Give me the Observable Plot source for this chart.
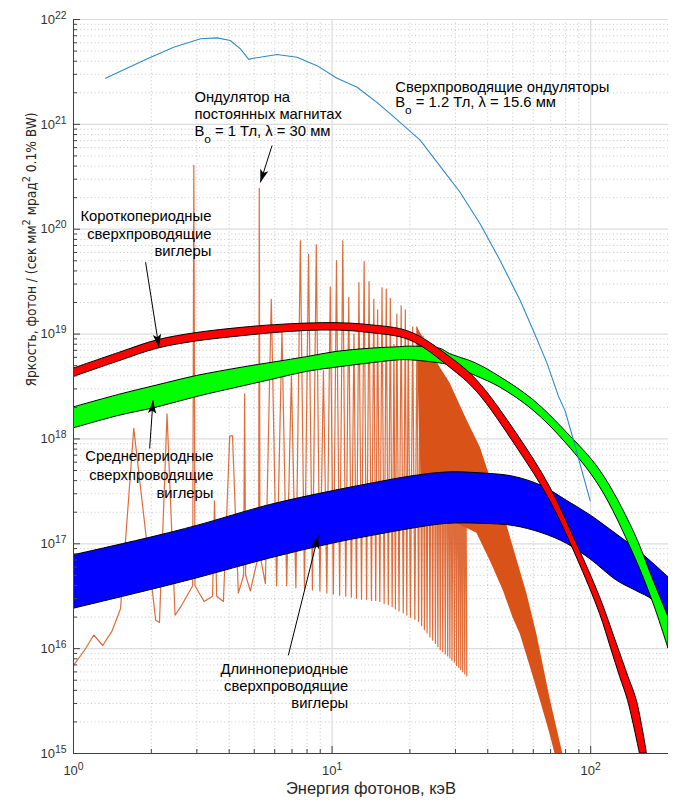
<!DOCTYPE html>
<html><head><meta charset="utf-8">
<script src="https://cdn.jsdelivr.net/npm/d3@7"></script>
<script src="https://cdn.jsdelivr.net/npm/@observablehq/plot@0.6"></script>
<style>
body{margin:0;background:#fff;}
#chart svg{font-family:"Liberation Sans",Arial,Helvetica,sans-serif;}
</style>
</head><body><div id="chart"></div>
<script>
// ---------- data (energies in keV, brightness as log10 of value) ----------
const xTickValues = [1, 10, 100];
const yTickExponents = [15, 16, 17, 18, 19, 20, 21, 22];

// permanent-magnet undulator, low-energy part (polyline)
const pmE = [1.00,1.10,1.198,1.297,1.41,1.52,1.71,2.08,2.15,2.30,2.47,2.60,2.89,2.92,2.95,3.2,3.45,3.51,3.58,3.8,4.02,4.12,4.34,4.55,4.59,4.63,4.83,5.20,5.23,5.26,5.52];
const pmB = [15.84,15.98,16.13,16.03,16.17,16.38,18.10,16.27,16.25,18.24,16.32,16.40,16.60,20.61,16.60,16.45,16.50,17.41,16.50,16.45,18.03,18.03,16.53,16.70,18.43,16.70,16.55,16.90,20.39,16.90,16.62];
// permanent-magnet undulator, harmonic peaks (keV, peak) and the minimum after each peak
const spikeE   = [5.82,6.40,6.96,7.54,8.11,8.69,9.26,9.84,10.4,11.0,11.6,12.15,12.7,13.3,13.9,14.5,15.0,15.6,16.2,16.8,17.35,17.8,18.5,19.2,19.7,20.5,21.3,
                  21.9,22.5,23.0,23.6,24.2,24.8,25.4,25.9,26.5,27.1,27.7,28.3,28.8,29.4,30.0,30.6,31.2,31.7,32.3,32.9];
const spikeTop = [19.33,19.03,18.60,19.89,19.76,19.85,18.65,19.45,19.70,19.89,19.35,19.00,19.49,19.69,19.50,19.33,19.23,19.44,19.43,19.34,18.90,19.19,19.27,19.23,19.00,19.07,19.07,
                  18.95,18.98,18.85,18.88,18.75,18.78,18.70,18.64,18.62,18.55,18.58,18.50,18.45,18.42,18.38,18.32,18.30,18.25,18.22,18.18];
const spikeMin = [16.60,16.60,16.58,16.57,16.56,16.55,16.53,16.52,16.51,16.50,16.49,16.48,16.47,16.47,16.46,16.46,16.45,16.43,16.42,16.40,16.38,16.36,16.34,16.32,16.30,16.28,16.26,
                  16.22,16.18,16.15,16.11,16.08,16.05,16.02,15.99,15.97,15.95,15.93,15.91,15.89,15.87,15.84,15.82,15.80,15.78,15.76,15.74];
// dense (solid) part: upper envelope and lower-left edge
const denseTopE = [21.3,23.3,26.2,28.6,33.2,37.4,40.8,46.0,51.0,56.6,61.9,70.0,78.0];
const denseTopB = [19.07,18.90,18.68,18.53,18.18,17.92,17.64,17.29,16.91,16.53,16.14,15.50,15.00];
const denseBotE = [21.3,21.8,22.5,30.0,36.3,41.0,46.0,50.0,53.4,58.0,63.8,69.0,72.8];
const denseBotB = [19.07,18.00,17.30,17.20,17.10,16.83,16.55,16.30,16.14,15.85,15.51,15.22,15.00];

// superconducting undulators (thin line)
const scuE = [1.33,1.93,2.44,3.10,3.59,4.04,4.42,4.76,4.97,6.12,7.32,8.74,10.45,12.5,14.9,16.8,21.9,26.2,31.3,37.4,44.7,53.4,60.1,67.6,75.0,79.6,85.8,92.4,99.6];
const scuB = [21.44,21.625,21.736,21.816,21.825,21.80,21.72,21.62,21.63,21.666,21.64,21.56,21.44,21.354,21.21,21.10,20.85,20.60,20.35,20.05,19.70,19.32,19.03,18.73,18.41,18.27,17.99,17.70,17.41];

// short-period SC wigglers (red band)
const redTopE = [1,1.5,2.11,3,4.5,6,8,10.4,14,20,28.6,36.3,51.8,69.7,88.4,108.7,126,140,151,165];
const redTopB = [18.67,18.82,18.94,19.01,19.06,19.085,19.10,19.104,19.085,19.02,18.78,18.56,18.05,17.54,17.00,16.49,16.05,15.73,15.50,15.00];
const redBotE = [1,1.5,2.11,3,4.5,6,8,10.4,14,20,28.6,36.3,51.8,69.7,88.4,108.7,120,130,139.6,155];
const redBotB = [18.59,18.74,18.86,18.93,18.98,19.01,19.03,19.034,19.01,18.94,18.68,18.45,17.92,17.41,16.87,16.33,16.00,15.73,15.50,15.00];
// mid-period SC wigglers (green band)
const greenE    = [1,1.5,2.11,3,4.5,6,8,10.4,14,18.3,20,26.2,28.6,36,44.7,60.1,80.9,108.7,146,175,200];
const greenTopB = [18.30,18.42,18.51,18.60,18.68,18.73,18.78,18.83,18.86,18.875,18.88,18.86,18.81,18.72,18.59,18.37,18.06,17.70,17.13,16.65,16.30];
const greenBotB = [18.10,18.22,18.30,18.40,18.50,18.57,18.64,18.68,18.72,18.75,18.75,18.72,18.70,18.60,18.49,18.27,17.95,17.54,16.91,16.43,16.00];
// long-period SC wigglers (blue band)
const blueE    = [1,2,3,5.77,10,15.4,20,27.8,38.5,50.3,65,80.9,100,126,150,175,200];
const blueTopB = [16.89,17.06,17.17,17.37,17.50,17.59,17.64,17.68,17.67,17.64,17.55,17.41,17.27,17.09,16.95,16.81,16.68];
const blueBotB = [16.38,16.56,16.67,16.86,17.00,17.09,17.14,17.19,17.19,17.17,17.10,17.00,16.85,16.65,16.55,16.46,16.30];

// annotation texts: keV, log10 brightness, anchor
const noteText = [
  "Ондулятор на", "постоянных магнитах", "B_{o} = 1 Тл, λ = 30 мм",
  "Сверхпроводящие ондуляторы", "B_{o} = 1.2 Тл, λ = 15.6 мм",
  "Короткопериодные", "сверхпроводящие", "виглеры",
  "Среднепериодные", "сверхпроводящие", "виглеры",
  "Длиннопериодные", "сверхпроводящие", "виглеры"
];
const noteX = [2.935,2.935,2.935, 17.55,17.55, 3.414,3.414,3.414, 3.475,3.475,3.475, 11.55,11.55,11.55];
const noteY = [21.256,21.094,20.937, 21.352,21.208, 20.126,19.954,19.792, 17.833,17.651,17.480, 15.806,15.644,15.482];
const noteAnchor = ["start","start","start","start","start","end","end","end","end","end","end","end","end","end"];
// arrows: tail (x1,y1) -> tip (x2,y2)
const arrowX1 = [5.86, 1.90, 1.97, 6.77];
const arrowY1 = [20.798, 19.685, 17.909, 15.935];
const arrowX2 = [5.28, 2.14, 2.03, 8.84];
const arrowY2 = [20.446, 18.875, 18.367, 17.079];

const xLabel = "Энергия фотонов, кэВ";
const yLabel = "Яркость, фотон / (сек мм^{2} мрад^{2} 0.1% BW)";

// ---------- build ----------
const P = v => Math.pow(10, v);
const W = 686, H = 807, mL = 73, mR = 18, mT = 19, mB = 54;
const xDomain = [1, 200], yDomain = [1e15, 1e22];

const rows = (E, B) => E.map((e, i) => ({x: e, y: P(B[i])}));
const band = (Ea, Ba, Eb, Bb) => Ea.map((e, i) => ({xa: e, ya: P(Ba[i]), xb: Eb[i], yb: P(Bb[i])}));

// permanent magnet undulator as one polyline: low part, then peak / minimum pairs
const pmRows = rows(pmE, pmB);
spikeE.forEach((e, i) => {
  pmRows.push({x: e, y: P(spikeTop[i])});
  const next = i + 1 < spikeE.length ? spikeE[i + 1] : e + 0.58;
  pmRows.push({x: Math.sqrt(e * next), y: P(spikeMin[i])});
});
const denseRows = band(denseTopE, denseTopB, denseBotE, denseBotB);
const scuRows = rows(scuE, scuB);
const redRows = band(redTopE, redTopB, redBotE, redBotB);
const greenRows = band(greenE, greenTopB, greenE, greenBotB);
const blueRows = band(blueE, blueTopB, blueE, blueBotB);
const noteRows = noteText.map((t, i) => ({t, x: noteX[i], y: P(noteY[i]), a: noteAnchor[i]}));

const xs = Plot.scale({x: {type: "log", domain: xDomain, range: [mL, W - mR]}});
const ys = Plot.scale({y: {type: "log", domain: yDomain, range: [H - mB, mT]}});
const arrowRows = arrowX1.map((x1, i) => {
  const y1 = P(arrowY1[i]), x2 = arrowX2[i], y2 = P(arrowY2[i]);
  const dx = xs.apply(x2) - xs.apply(x1), dy = ys.apply(y2) - ys.apply(y1);
  return {x1, y1, x2, y2, ang: Math.atan2(dx, -dy) * 180 / Math.PI};
});
const headSymbol = {draw(ctx) { ctx.moveTo(0, 0); ctx.lineTo(-4.2, 13); ctx.lineTo(0, 10); ctx.lineTo(4.2, 13); ctx.closePath(); }};

const xMinor = [], yMinor = [];
for (let k = 0; k <= 2; k++) for (let m = 2; m <= 9; m++) { const v = m * 10 ** k; if (v < 200) xMinor.push(v); }
for (let k = 15; k < 22; k++) for (let m = 2; m <= 9; m++) yMinor.push(m * 10 ** k);
const yMajor = yTickExponents.map(P);

const orange = "#D95319";
const supFmt = d => `10^{${Math.round(Math.log10(d))}}`;
const bandOpts = {x1: "xa", y1: "ya", x2: "xb", y2: "yb", stroke: "black", strokeWidth: 1, curve: "catmull-rom", clip: true};

const chart = Plot.plot({
  width: W, height: H,
  marginLeft: mL, marginRight: mR, marginTop: mT, marginBottom: mB,
  style: {background: "white", color: "#262626", fontSize: "13px"},
  x: {type: "log", domain: xDomain},
  y: {type: "log", domain: yDomain},
  marks: [
    Plot.gridX(xMinor, {stroke: "#9a9a9a", strokeOpacity: 0.55, strokeDasharray: "1,2.6"}),
    Plot.gridY(yMinor, {stroke: "#9a9a9a", strokeOpacity: 0.55, strokeDasharray: "1,2.6"}),
    Plot.gridX(xTickValues, {stroke: "#dcdcdc", strokeOpacity: 1, strokeWidth: 1.2}),
    Plot.gridY(yMajor, {stroke: "#dcdcdc", strokeOpacity: 1, strokeWidth: 1.2}),
    // permanent magnet undulator
    Plot.line(pmRows, {x: "x", y: "y", stroke: orange, strokeWidth: 1.2, strokeOpacity: 0.85, clip: true}),
    Plot.area(denseRows, {x1: "xa", y1: "ya", x2: "xb", y2: "yb", fill: orange, clip: true}),
    // wiggler bands
    Plot.area(blueRows, {...bandOpts, fill: "#0000ff"}),
    Plot.area(greenRows, {...bandOpts, fill: "#00ff00"}),
    Plot.area(redRows, {...bandOpts, fill: "#ff0000"}),
    // superconducting undulators
    Plot.line(scuRows, {x: "x", y: "y", stroke: "#3189c8", strokeWidth: 1.1, clip: true}),
    // axes
    Plot.ruleX([1], {stroke: "#404040"}),
    Plot.ruleY([1e15], {stroke: "#404040"}),
    Plot.axisX(xTickValues, {tickSize: -7, tickFormat: () => "", stroke: "#404040"}),
    Plot.axisX(xMinor, {tickSize: -4, tickFormat: () => "", stroke: "#404040"}),
    Plot.axisY(yMajor, {tickSize: -7, tickFormat: () => "", stroke: "#404040"}),
    Plot.axisY(yMinor, {tickSize: -4, tickFormat: () => "", stroke: "#404040"}),
    Plot.axisX(xTickValues, {tickSize: 0, tickPadding: 12, tickFormat: supFmt, fontSize: 13, fill: "#333"}),
    Plot.axisY(yMajor, {tickSize: 0, tickPadding: 7, tickFormat: supFmt, fontSize: 13, fill: "#333"}),
    Plot.text([xLabel], {frameAnchor: "bottom", dy: 40, fontSize: 16.5, fill: "#262626"}),
    Plot.text([yLabel], {frameAnchor: "left", dx: -42, rotate: -90, fontSize: 13.6, fill: "#262626",
      fontFamily: "'Liberation Sans Narrow', 'DejaVu Sans Condensed', 'Liberation Sans', sans-serif"}),
    // annotations
    Plot.link(arrowRows, {x1: "x1", y1: "y1", x2: "x2", y2: "y2", stroke: "black", strokeWidth: 1}),
    Plot.dot(arrowRows, {x: "x2", y: "y2", symbol: headSymbol, rotate: "ang", fill: "black", stroke: "none", r: 5}),
    Plot.text(noteRows.filter(d => d.a === "start"), {x: "x", y: "y", text: "t", textAnchor: "start", fontSize: 14.8, fill: "black"}),
    Plot.text(noteRows.filter(d => d.a === "end"), {x: "x", y: "y", text: "t", textAnchor: "end", fontSize: 14.8, fill: "black"})
  ]
});

// rich text: ^{..} superscript, _{..} subscript
const NS = "http://www.w3.org/2000/svg";
chart.querySelectorAll("text").forEach(el => {
  const s = el.textContent;
  if (!/[\^_]\{/.test(s) || el.querySelector("tspan")) return;
  const parts = s.split(/([\^_]\{[^}]*\})/);
  el.textContent = "";
  for (const p of parts) {
    if (!p) continue;
    const t = document.createElementNS(NS, "tspan");
    if (p.startsWith("^{")) { t.textContent = p.slice(2, -1); t.setAttribute("baseline-shift", "super"); t.setAttribute("font-size", "80%"); }
    else if (p.startsWith("_{")) { t.textContent = p.slice(2, -1); t.setAttribute("baseline-shift", "sub"); t.setAttribute("font-size", "80%"); }
    else t.textContent = p;
    el.appendChild(t);
  }
});
document.getElementById("chart").appendChild(chart);
</script>
</body></html>
